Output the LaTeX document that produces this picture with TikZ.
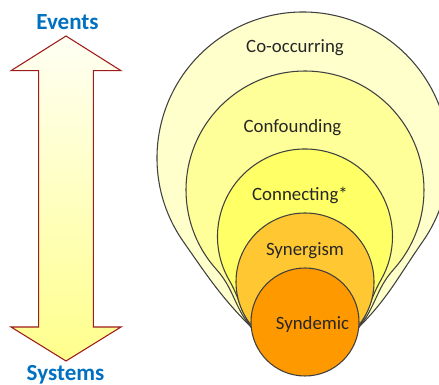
\documentclass[tikz,border=0pt]{standalone}
\usepackage{fontspec}
\setmainfont{Carlito}
\usetikzlibrary{calc}
\definecolor{cocc}{HTML}{FFFFCC}
\definecolor{conf}{HTML}{FFFF99}
\definecolor{conn}{HTML}{FFFF66}
\definecolor{syne}{HTML}{FFC832}
\definecolor{synd}{HTML}{FF9900}
\definecolor{evblue}{HTML}{0070C0}
\definecolor{arrowred}{HTML}{9E1B1B}
\definecolor{arrowbot}{HTML}{FFFF8C}
\definecolor{arrowtop}{HTML}{FFFFF4}
\definecolor{outline}{HTML}{404040}
\definecolor{labeltxt}{HTML}{262626}
\begin{document}
\begin{tikzpicture}[x=0.75pt,y=0.75pt,
  blob/.style={draw=outline,line width=0.8pt,line join=round},
  lbl/.style={anchor=base,inner sep=0pt,text=labeltxt,font=\fontsize{14.1}{16}\selectfont},
  side/.style={anchor=base,inner sep=0pt,text=evblue,font=\fontsize{17.3}{20}\selectfont\bfseries}]
\clip (0,0) rectangle (439,385);
% double arrow
\path[draw=arrowred,line width=0.8pt,line join=miter,top color=arrowtop,bottom color=arrowbot]
  (66,349) -- (121,314.3) -- (93.3,314.3) -- (93.3,58) -- (121,58) -- (66,24)
  -- (11,58) -- (38.7,58) -- (38.7,314.3) -- (11,314.3) -- cycle;
\node[side] (events) at (67.5,355) {Events};
\node[side] (systems) at (65.5,4.3) {Systems};
% nested shapes
\coordinate (pl) at (251,58);
\coordinate (pr) at (359,58);
\draw[blob,fill=cocc] (pl) to[out=135,in=305] ($(303,227)+(215:146)$)
  arc[start angle=215,end angle=-35,radius=146] to[out=-125,in=45] (pr) -- cycle;
\draw[blob,fill=conf] (pl) to[out=130,in=312] ($(305,195)+(222:119)$)
  arc[start angle=222,end angle=-42,radius=119] to[out=-132,in=50] (pr) -- cycle;
\draw[blob,fill=conn] (pl) to[out=122,in=300] ($(305,148.5)+(210:87.5)$)
  arc[start angle=210,end angle=-30,radius=87.5] to[out=-120,in=58] (pr) -- cycle;
\draw[blob,fill=syne] (305,103) circle[radius=69];
\draw[blob,fill=synd] (305,63) circle[radius=54];
\node[lbl] (cooccurring) at (295,332) {Co-occurring};
\node[lbl] (confounding) at (292.5,252) {Confounding};
\node[lbl] (connecting) at (300,184.3) {Connecting*};
\node[lbl] (synergism) at (305,129) {Synergism};
\node[lbl] (syndemic) at (312.5,55.7) {Syndemic};
\end{tikzpicture}
\end{document}
